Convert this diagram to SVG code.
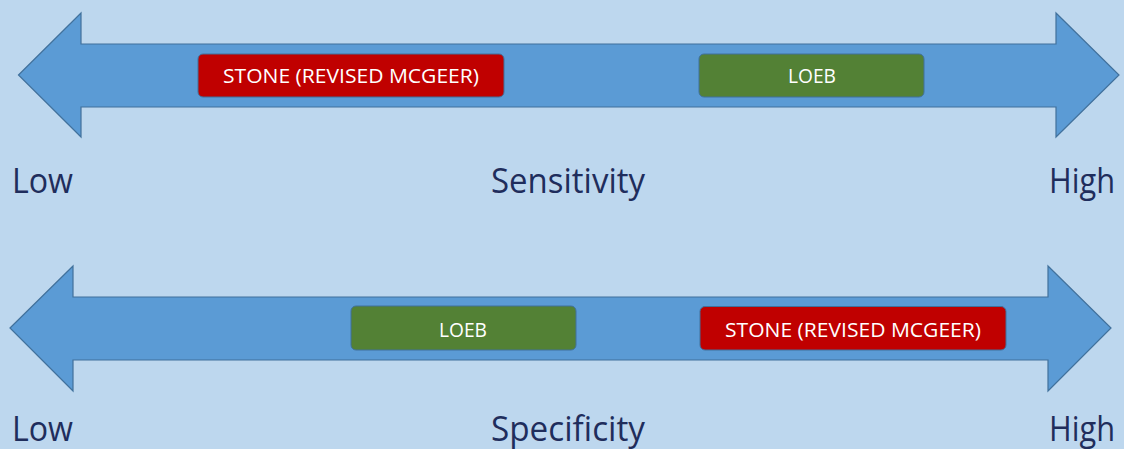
<svg xmlns="http://www.w3.org/2000/svg" width="1124" height="449" viewBox="0 0 1124 449">
  <style>
    .arrow { fill: #5B9BD5; stroke: #41719C; stroke-width: 1.2; stroke-linejoin: miter; }
    .box { stroke: #41719C; stroke-width: 1; }
    .red { fill: #C00000; }
    .green { fill: #538135; }
    .boxtext { font-family: "Open Sans", "Liberation Sans", sans-serif; font-size: 19.5px; fill: #FFFFFF; text-anchor: middle; }
    .axis { font-family: "Open Sans", "Liberation Sans", sans-serif; font-size: 34px; fill: #1F2D5C; }
  </style>
  <rect width="1124" height="449" fill="#BDD7EE"/>

  <!-- Sensitivity scale -->
  <g id="sensitivity-arrow">
    <polygon class="arrow" points="18.5,75 81,13 81,44 1056,44 1056,13 1119,75 1056,137 1056,107 81,107 81,137"/>
  </g>
  <g id="sensitivity-stone">
    <rect class="box red" x="198" y="54" width="306" height="43" rx="5"/>
    <text class="boxtext" x="351" y="83" textLength="256" lengthAdjust="spacingAndGlyphs">STONE (REVISED MCGEER)</text>
  </g>
  <g id="sensitivity-loeb">
    <rect class="box green" x="699" y="54" width="225" height="43" rx="5"/>
    <text class="boxtext" x="812" y="83" textLength="48" lengthAdjust="spacingAndGlyphs">LOEB</text>
  </g>
  <g id="sensitivity-labels">
    <text class="axis" x="12" y="193" textLength="61" lengthAdjust="spacingAndGlyphs">Low</text>
    <text class="axis" x="491" y="193" textLength="154" lengthAdjust="spacingAndGlyphs">Sensitivity</text>
    <text class="axis" x="1049" y="193" textLength="66" lengthAdjust="spacingAndGlyphs">High</text>
  </g>

  <!-- Specificity scale -->
  <g id="specificity-arrow">
    <polygon class="arrow" points="10,328 73,266 73,297 1048,297 1048,266 1111,328 1048,391 1048,360 73,360 73,391"/>
  </g>
  <g id="specificity-loeb">
    <rect class="box green" x="351" y="306" width="225" height="44" rx="5"/>
    <text class="boxtext" x="463" y="337" textLength="48" lengthAdjust="spacingAndGlyphs">LOEB</text>
  </g>
  <g id="specificity-stone">
    <rect class="box red" x="700" y="306.5" width="306" height="43.5" rx="5"/>
    <text class="boxtext" x="853" y="337" textLength="256" lengthAdjust="spacingAndGlyphs">STONE (REVISED MCGEER)</text>
  </g>
  <g id="specificity-labels">
    <text class="axis" x="12" y="441" textLength="61" lengthAdjust="spacingAndGlyphs">Low</text>
    <text class="axis" x="491" y="441" textLength="154" lengthAdjust="spacingAndGlyphs">Specificity</text>
    <text class="axis" x="1049" y="441" textLength="66" lengthAdjust="spacingAndGlyphs">High</text>
  </g>

  <!-- connectors: none drawn; the scales are block arrows above -->
  <g id="connectors"/>
</svg>
